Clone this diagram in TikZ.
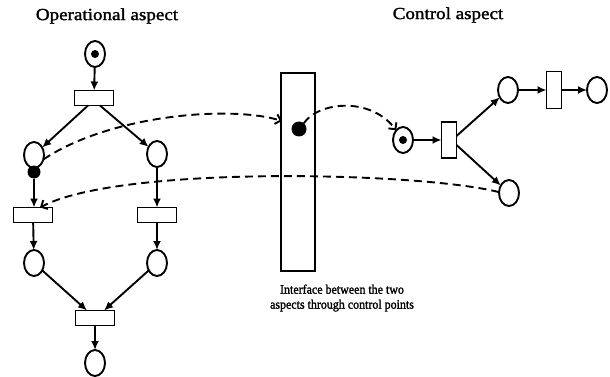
\documentclass[tikz,border=0pt]{standalone}
\usepackage{fontspec}
\setmainfont{Liberation Serif}
\newfontfamily\headfont[FakeStretch=1.12,FakeBold=1.6]{Liberation Serif}
\newfontfamily\capfont[FakeStretch=0.92,FakeBold=1.6]{Liberation Serif}
\usetikzlibrary{arrows.meta,calc,shapes.geometric}

\begin{document}
\begin{tikzpicture}[x=1pt,y=-1pt,
  every node/.style={inner sep=0pt, outer sep=0pt},
  place/.style={ellipse,draw,line width=1.9pt,minimum width=20pt,minimum height=26pt},
  trans/.style={rectangle,draw,line width=1.9pt,minimum width=39pt,minimum height=15pt},
  vtrans/.style={rectangle,draw,line width=1.9pt,minimum width=15pt,minimum height=36pt},
  token/.style={circle,fill,minimum size=8pt},
  cpoint/.style={circle,fill,minimum size=13pt},
  arc/.style={line width=1.9pt,-{Latex[length=9pt,width=8pt]}},
  link/.style={line width=1.9pt,dash pattern=on 8pt off 5pt,
    -{Straight Barb[length=5pt,width=10pt,line width=1.9pt]}},
  head/.style={font=\headfont\fontsize{17}{20}\selectfont},
  caption/.style={font=\capfont\fontsize{13}{15}\selectfont,align=center}]
\useasboundingbox (0,0) rectangle (610,377);

% headings
\node[head] (hop) at (107,16) {Operational aspect};
\node[head] (hco) at (448,15) {Control aspect};

% operational net
\node[place] (pT) at (95,54) {};
\node[token] (kT) at (pT) {};
\node[trans] (t1) at (94,98) {};
\node[place] (pL1) at (34,155) {};
\node[place] (pR1) at (157,154) {};
\node[cpoint] (dotL) at (34,172) {};
\node[trans] (tL2) at (33,215) {};
\node[trans] (tR2) at (157,215) {};
\node[place] (pL3) at (34,263) {};
\node[place] (pR3) at (157,263) {};
\node[trans] (tB) at (95,318) {};
\node[place] (pB) at (95,363) {};

\draw[arc] (pT) -- (t1);
\draw[arc] ($(t1.south)+(-6,0)$) -- (pL1);
\draw[arc] ($(t1.south)+(6,0)$) -- (pR1);
\draw[arc] (dotL) -- (dotL |- tL2.north);
\draw[arc] (pR1) -- (tR2);
\draw[arc] (tL2) -- (pL3);
\draw[arc] (tR2) -- (pR3);
\draw[arc] (pL3) -- ($(tB.north)+(-8,0)$);
\draw[arc] (pR3) -- ($(tB.north)+(9,0)$);
\draw[arc] (tB) -- (pB);

% interface with its control point
\node[draw,line width=1.9pt,minimum width=34pt,minimum height=198pt] (iface) at (298,172) {};
\node[cpoint,minimum size=15pt] (idot) at (299,129) {};
\coordinate (inA) at (282,121);

% control net
\node[place] (pC) at (403,140) {};
\node[token] (kC) at (pC) {};
\node[vtrans] (tC1) at (449,140) {};
\node[place] (pC2) at (508,90) {};
\node[vtrans,minimum height=37pt] (tC2) at (554,90) {};
\node[place] (pC3) at (597,90) {};
\node[place] (pC4) at (509,193) {};

\draw[arc] (pC) -- (tC1);
\draw[arc] ($(tC1.east)+(0,-4)$) -- (pC2);
\draw[arc] ($(tC1.east)+(0,5)$) -- (pC4);
\draw[arc] (pC2) -- (tC2);
\draw[arc] (tC2) -- (pC3);

% links through the control points
\draw[link] (pL1.-25) .. controls (110,115) and (230,105) .. (inA);
\draw[link] (idot.50) .. controls (318,102) and (370,96) .. (pC.125);
\draw[link] (pC4.175) .. controls (420,172) and (120,165) .. ($(tL2.north)+(7,0)$);

% caption
\node[caption] (cap) at (342,298) {Interface between the two\\aspects through control points};
\end{tikzpicture}
\end{document}
